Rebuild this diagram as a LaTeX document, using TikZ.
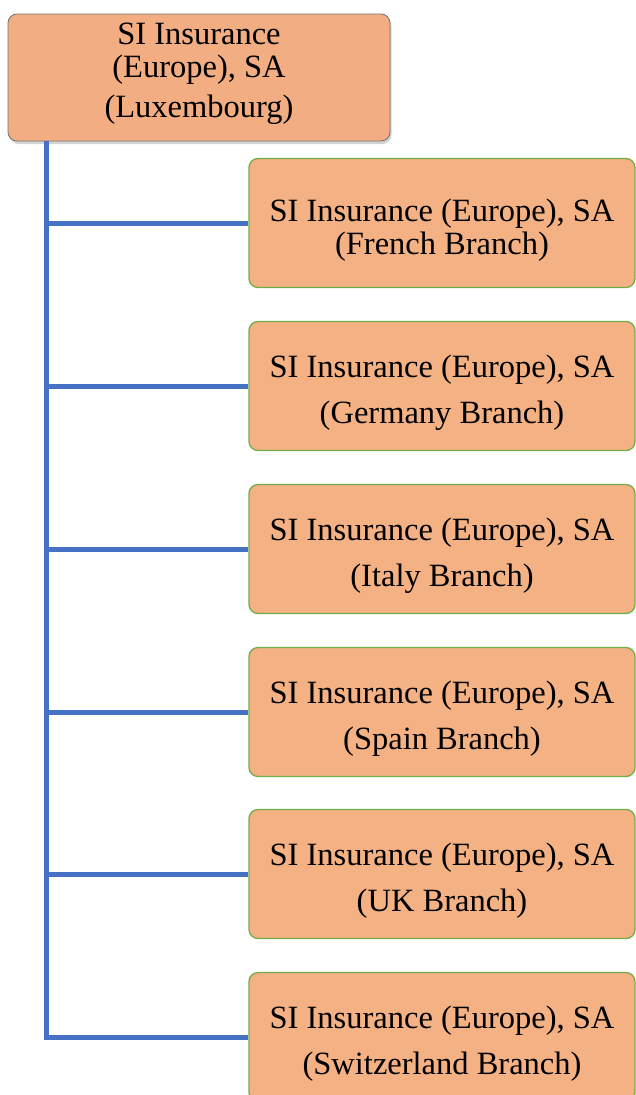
\documentclass[tikz,border=0pt]{standalone}
\usepackage{fontspec}
\setmainfont{Liberation Serif}
\usetikzlibrary{shadows}

\definecolor{boxfill}{HTML}{F4B183}
\definecolor{topfill}{HTML}{F2AE82}
\definecolor{leafedge}{HTML}{70AD47}
\definecolor{linkblue}{HTML}{4472C4}

\newcommand{\upstrut}{\rule{0pt}{36pt}}
\newcommand{\downstrut}{\rule[-15pt]{0pt}{0pt}}

\begin{document}
\begin{tikzpicture}[x=1pt,y=-1pt,
    boxtext/.style={font=\fontsize{32.5}{33}\selectfont,align=center,inner sep=0pt},
    topbox/.style={boxtext,draw=gray!90!black,line width=0.8pt,fill=topfill,rounded corners=9pt,
        minimum width=382pt,minimum height=127pt,drop shadow={shadow xshift=1.5pt,shadow yshift=-3pt,opacity=0.35}},
    leafbox/.style={boxtext,draw=leafedge,line width=1.3pt,fill=boxfill,rounded corners=9pt,
        minimum width=386pt,minimum height=129pt},
    link/.style={draw=linkblue,line width=5pt}]
    \useasboundingbox(0,0)rectangle(636,1095);

    \coordinate (trunk) at(46,141);
    \coordinate (corner) at(46,1037);

    \node[topbox] (lux) at(199,77.5){SI Insurance\\(Europe), SA\\[7pt](Luxembourg)\downstrut};
    \node[leafbox] (fr) at(442,223){\upstrut SI Insurance (Europe), SA\\(French Branch)};
    \node[leafbox] (de) at(442,386){\upstrut SI Insurance (Europe), SA\\[13pt](Germany Branch)};
    \node[leafbox] (it) at(442,549){\upstrut SI Insurance (Europe), SA\\[13pt](Italy Branch)};
    \node[leafbox] (es) at(442,712){\upstrut SI Insurance (Europe), SA\\[13pt](Spain Branch)};
    \node[leafbox] (uk) at(442,874){\upstrut SI Insurance (Europe), SA\\[13pt](UK Branch)};
    \node[leafbox] (ch) at(442,1037){\upstrut SI Insurance (Europe), SA\\[13pt](Switzerland Branch)};

    % trunk down the left, one branch per office
    \draw[link](trunk)--(corner)--(ch.west);
    \draw[link](trunk|-fr.west)--(fr.west);
    \draw[link](trunk|-de.west)--(de.west);
    \draw[link](trunk|-it.west)--(it.west);
    \draw[link](trunk|-es.west)--(es.west);
    \draw[link](trunk|-uk.west)--(uk.west);
\end{tikzpicture}
\end{document}
